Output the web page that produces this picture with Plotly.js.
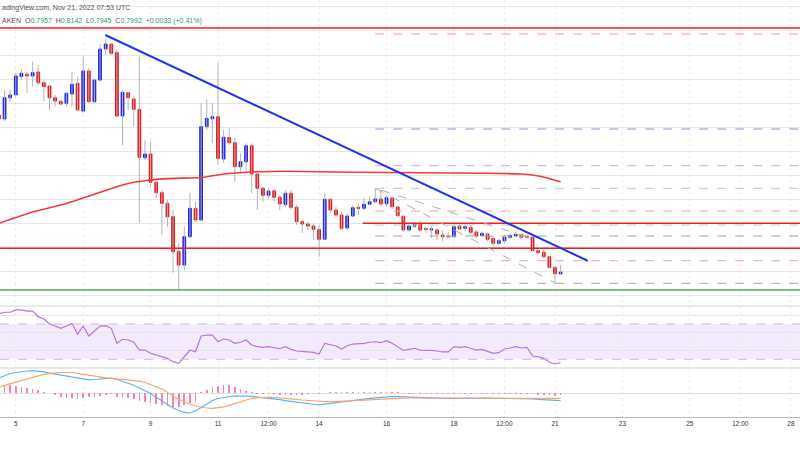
<!DOCTYPE html>
<html><head><meta charset="utf-8">
<script src="https://cdn.plot.ly/plotly-3.0.1.min.js"></script>
<style>html,body{margin:0;padding:0;background:#fff;}#chart{width:800px;height:450px;}</style>
</head><body><div id="chart"></div>
<script>
// ---- data (4h candles, MATICUSD Kraken) ----
const firstCandle = '2022-11-04T12:00:00Z';
const opens = [1.1254,1.1171,1.1613,1.1675,1.2055,1.2099,1.2064,1.2147,1.1924,1.1856,1.1613,1.1538,1.1497,1.1690,1.1910,1.1337,1.2167,1.1530,1.1980,1.2624,1.2728,1.2550,1.1233,1.1715,1.1586,1.1372,1.0367,1.0444,0.9856,0.9640,0.9420,0.9142,0.8420,0.8139,0.8727,0.9310,0.9074,1.1011,1.1175,1.1218,1.0340,1.0785,1.0679,1.0180,1.0284,1.0616,1.0029,0.9732,0.9586,0.9680,0.9545,0.9395,0.9628,0.9337,0.9038,0.8990,0.8949,0.8875,0.8673,0.9503,0.9281,0.9177,0.8910,0.9157,0.9337,0.9316,0.9400,0.9454,0.9510,0.9412,0.9530,0.9345,0.9150,0.8866,0.8945,0.9000,0.8895,0.8866,0.8866,0.8762,0.8741,0.8727,0.8945,0.8901,0.8922,0.8825,0.8750,0.8783,0.8690,0.8590,0.8644,0.8714,0.8740,0.8770,0.8730,0.8718,0.8436,0.8405,0.8311,0.8091,0.7957];
const highs = [1.1358,1.1773,1.1773,1.2126,1.2203,1.2153,1.2360,1.2292,1.1980,1.1877,1.1669,1.1565,1.1738,1.2153,1.2049,1.2464,1.2223,1.2016,1.2728,1.2840,1.2749,1.2618,1.1773,1.1738,1.1634,1.2464,1.0735,1.0699,0.9904,0.9696,0.9489,0.9281,0.8596,0.8934,0.9634,0.9454,1.1503,1.1586,1.1503,1.2333,1.0942,1.0978,1.0776,1.0459,1.0666,1.0666,1.0076,0.9765,0.9732,0.9711,0.9593,0.9696,0.9696,0.9385,0.9074,0.9038,0.8990,0.8970,0.9640,0.9524,0.9350,0.9246,0.9213,0.9385,0.9420,0.9524,0.9557,0.9732,0.9696,0.9593,0.9557,0.9364,0.9177,0.9005,0.9032,0.9053,0.8949,0.8949,0.8907,0.8866,0.8824,0.8970,0.8990,0.8990,0.8970,0.8866,0.8831,0.8810,0.8741,0.8679,0.8762,0.8783,0.8831,0.8797,0.8768,0.8762,0.8465,0.8451,0.8326,0.8098,0.8142];
const lows = [1.1108,1.1129,1.1530,1.1634,1.1980,1.1711,1.1841,1.1877,1.1530,1.1358,1.1426,1.1461,1.1426,1.1426,1.1343,1.1301,1.1497,1.1497,1.1945,1.2500,1.2500,1.1206,1.0631,1.1358,1.1011,0.9017,1.0319,0.9765,0.9530,0.8762,0.8934,0.7979,0.7635,0.8035,0.8700,0.9038,0.9053,1.0942,1.0672,1.0216,1.0257,1.0631,0.9869,1.0043,1.0112,0.9634,0.9281,0.9454,0.9524,0.9454,0.9281,0.9343,0.9281,0.8970,0.8804,0.8866,0.8658,0.8311,0.8658,0.9213,0.9142,0.8866,0.8866,0.9142,0.9177,0.9281,0.9385,0.9420,0.9364,0.9350,0.9296,0.9142,0.8831,0.8831,0.8907,0.8831,0.8804,0.8700,0.8658,0.8623,0.8700,0.8714,0.8866,0.8831,0.8762,0.8694,0.8720,0.8623,0.8519,0.8554,0.8590,0.8679,0.8714,0.8679,0.8700,0.8415,0.8368,0.8278,0.8071,0.7772,0.7945];
const closes = [1.1171,1.1613,1.1669,1.2064,1.2120,1.2064,1.2132,1.1924,1.1841,1.1613,1.1544,1.1482,1.1704,1.1891,1.1358,1.2167,1.1530,1.1980,1.2624,1.2728,1.2535,1.1233,1.1725,1.1613,1.1372,1.0375,1.0444,0.9856,0.9640,0.9420,0.9142,0.8415,0.8139,0.8727,0.9316,0.9074,1.1011,1.1185,1.1218,1.0355,1.0791,1.0679,1.0180,1.0284,1.0616,1.0029,0.9732,0.9586,0.9676,0.9545,0.9406,0.9628,0.9337,0.9038,0.8990,0.8949,0.8880,0.8673,0.9503,0.9281,0.9177,0.8901,0.9157,0.9329,0.9316,0.9400,0.9454,0.9510,0.9406,0.9537,0.9350,0.9163,0.8866,0.8949,0.8990,0.8866,0.8878,0.8887,0.8783,0.8727,0.8727,0.8934,0.8887,0.8934,0.8818,0.8741,0.8797,0.8673,0.8590,0.8644,0.8714,0.8748,0.8777,0.8714,0.8718,0.8436,0.8395,0.8311,0.8091,0.7957,0.7992];
// 100-period moving average, sampled at candle indices
const maIdx = [0,6,12,18,21,24,26,28,31,36,40,43,46,51,63,75,87,93,95,97,98,99,100];
const maVal = [0.9007,0.9240,0.9418,0.9649,0.9765,0.9856,0.9890,0.9917,0.9939,0.9956,1.0029,1.0056,1.0076,1.0087,1.0066,1.0054,1.0045,1.0029,1.0008,0.9966,0.9933,0.9900,0.9869];
const rsi = [81.3,83.3,83.3,85.9,85.9,84.7,84.7,78.3,75.7,70.0,67.7,65.1,67.7,70.8,58.3,67.7,56.4,62.1,67.7,68.1,65.1,48.1,52.7,51.9,49.3,40.5,40.5,36.8,34.9,32.9,31.1,27.3,25.5,32.9,40.5,38.6,56.4,57.5,57.5,49.9,53.0,51.9,48.1,49.3,51.9,46.2,44.3,43.6,44.3,43.1,42.0,44.3,41.3,39.4,38.6,38.3,37.9,36.0,48.1,46.2,45.1,41.7,45.4,47.3,47.3,48.1,49.3,49.9,48.8,51.1,48.1,44.3,40.0,41.3,42.5,40.5,40.5,40.0,39.4,38.3,38.3,44.3,43.6,44.3,42.5,40.5,41.3,39.4,36.8,37.5,41.7,42.8,44.3,42.8,43.6,33.7,32.9,31.1,26.6,24.7,26.1];
const macdLine = [0.0153,0.0178,0.0198,0.0208,0.0218,0.0223,0.0226,0.0223,0.0215,0.0201,0.0191,0.0181,0.0173,0.0163,0.0151,0.0143,0.0135,0.0138,0.0143,0.0150,0.0151,0.0138,0.0121,0.0101,0.0080,0.0053,0.0025,-0.0002,-0.0040,-0.0075,-0.0112,-0.0147,-0.0172,-0.0190,-0.0197,-0.0177,-0.0142,-0.0107,-0.0072,-0.0052,-0.0040,-0.0032,-0.0029,-0.0027,-0.0027,-0.0031,-0.0037,-0.0043,-0.0048,-0.0055,-0.0063,-0.0074,-0.0082,-0.0090,-0.0099,-0.0107,-0.0113,-0.0117,-0.0109,-0.0101,-0.0094,-0.0087,-0.0079,-0.0068,-0.0062,-0.0057,-0.0051,-0.0045,-0.0040,-0.0036,-0.0034,-0.0034,-0.0037,-0.0040,-0.0043,-0.0045,-0.0047,-0.0049,-0.0050,-0.0051,-0.0050,-0.0049,-0.0050,-0.0051,-0.0052,-0.0051,-0.0050,-0.0049,-0.0050,-0.0051,-0.0050,-0.0049,-0.0050,-0.0051,-0.0050,-0.0055,-0.0060,-0.0065,-0.0069,-0.0072,-0.0074];
const signalLine = [0.0063,0.0080,0.0095,0.0108,0.0127,0.0145,0.0160,0.0175,0.0189,0.0200,0.0205,0.0208,0.0210,0.0208,0.0200,0.0190,0.0183,0.0173,0.0163,0.0155,0.0150,0.0145,0.0140,0.0135,0.0130,0.0121,0.0108,0.0088,0.0068,0.0043,0.0010,-0.0032,-0.0062,-0.0087,-0.0107,-0.0127,-0.0140,-0.0147,-0.0150,-0.0145,-0.0135,-0.0120,-0.0102,-0.0082,-0.0062,-0.0050,-0.0045,-0.0041,-0.0040,-0.0042,-0.0045,-0.0050,-0.0055,-0.0061,-0.0067,-0.0073,-0.0079,-0.0083,-0.0084,-0.0083,-0.0082,-0.0080,-0.0078,-0.0076,-0.0072,-0.0069,-0.0065,-0.0061,-0.0057,-0.0053,-0.0050,-0.0049,-0.0048,-0.0047,-0.0047,-0.0046,-0.0046,-0.0046,-0.0046,-0.0046,-0.0046,-0.0046,-0.0046,-0.0046,-0.0046,-0.0046,-0.0046,-0.0046,-0.0046,-0.0046,-0.0046,-0.0046,-0.0046,-0.0046,-0.0046,-0.0047,-0.0047,-0.0048,-0.0049,-0.0050,-0.0051];
const histogram = [0.0085,0.0083,0.0083,0.0073,0.0067,0.0050,0.0040,0.0033,0.0017,0.0003,-0.0017,-0.0040,-0.0043,-0.0050,-0.0057,-0.0043,-0.0040,-0.0033,-0.0027,-0.0013,-0.0007,-0.0033,-0.0040,-0.0050,-0.0060,-0.0077,-0.0090,-0.0100,-0.0107,-0.0117,-0.0123,-0.0133,-0.0133,-0.0117,-0.0100,-0.0083,0.0010,0.0033,0.0060,0.0077,0.0083,0.0083,0.0060,0.0043,0.0027,0.0010,-0.0003,-0.0008,-0.0010,-0.0010,-0.0012,-0.0012,-0.0012,-0.0013,-0.0012,-0.0011,-0.0010,-0.0008,0.0005,0.0010,0.0013,0.0015,0.0016,0.0017,0.0017,0.0017,0.0017,0.0016,0.0017,0.0017,0.0016,0.0012,-0.0005,-0.0005,-0.0004,-0.0005,-0.0006,-0.0005,-0.0005,-0.0004,-0.0005,-0.0005,-0.0006,-0.0005,-0.0005,-0.0004,-0.0005,-0.0005,-0.0006,-0.0005,-0.0005,-0.0004,-0.0005,-0.0005,-0.0005,-0.0008,-0.0012,-0.0016,-0.0020,-0.0022,-0.0020];
// horizontal levels
const solidLevels = [1.3060, 0.8486, 0.7620];
const solidColors = ['#f01e1e', '#f01e1e', '#4caf50'];
const resistStart = '2022-11-15 07:00';
const resistLevel = 0.9005;
const fibStart = '2022-11-15 16:00';
const fibLevels = [1.2936, 1.0963, 1.0201, 0.9732, 0.9260, 0.8970, 0.8741, 0.8228, 0.7759];
const fibColors = ['#f59a9a', '#8f8fe0', '#c9a3ec', '#9fd0ec', '#f3a3a3', '#a8d9ab', '#b89a9a', '#f3a3a3', '#a9a9a9'];
const trendX = ['2022-11-07 15:44', '2022-11-21 23:17'];
const trendY = [1.2915, 0.8228];
const diagA = {x: ['2022-11-15 16:00', '2022-11-21 00:00'], y: [0.9732, 0.7765]};
const diagB = {x: ['2022-11-15 20:00', '2022-11-20 04:00'], y: [0.9697, 0.8725]};
const xRange = ['2022-11-04 12:45', '2022-11-28 06:29'];
const tickVals = ['2022-11-05','2022-11-07','2022-11-09','2022-11-11','2022-11-12 12:00','2022-11-14','2022-11-16','2022-11-18','2022-11-19 12:00','2022-11-21','2022-11-23','2022-11-25','2022-11-26 12:00','2022-11-28'];
const tickText = ['5','7','9','11','12:00','14','16','18','12:00','21','23','25','12:00','28'];

// ---- build ----
function fmt(d){const p=n=>String(n).padStart(2,'0');return d.getUTCFullYear()+'-'+p(d.getUTCMonth()+1)+'-'+p(d.getUTCDate())+' '+p(d.getUTCHours())+':'+p(d.getUTCMinutes());}
const t0 = new Date(firstCandle).getTime();
const times = opens.map((_,i)=>fmt(new Date(t0 + i*4*3600*1000)));
const wx=[], wy=[];
times.forEach((t,i)=>{wx.push(t,t,null);wy.push(lows[i],highs[i],null);});
const bodyHigh = opens.map((o,i)=>Math.max(o,closes[i]));
const bodyLow = opens.map((o,i)=>Math.min(o,closes[i]));
const BLUE='#1b22e6', RED='#e8141c';

const traces = [
 {type:'scatter',mode:'lines',x:wx,y:wy,line:{color:'#b4b4b4',width:1},xaxis:'x',yaxis:'y',hoverinfo:'skip'},
 {type:'candlestick',x:times,open:opens,high:bodyHigh,low:bodyLow,close:closes,xaxis:'x',yaxis:'y',
  increasing:{line:{color:BLUE,width:1},fillcolor:BLUE},decreasing:{line:{color:RED,width:1},fillcolor:RED},whiskerwidth:0},
 {type:'scatter',mode:'lines',x:maIdx.map(i=>times[i]),y:maVal,line:{color:'#f23a3a',width:1.6,shape:'spline',smoothing:0.6},xaxis:'x',yaxis:'y'},
 {type:'scatter',mode:'lines',x:times,y:rsi,line:{color:'#bc72d8',width:1.2},xaxis:'x',yaxis:'y2'},
 {type:'bar',x:times,y:histogram,width:1.2*3600*1000,marker:{color:'#f882b3',line:{width:0}},xaxis:'x',yaxis:'y3'},
 {type:'scatter',mode:'lines',x:times,y:macdLine,line:{color:'#5fb4f4',width:1.2},xaxis:'x',yaxis:'y3'},
 {type:'scatter',mode:'lines',x:times,y:signalLine,line:{color:'#fba46c',width:1.2},xaxis:'x',yaxis:'y3'}
];

const H=417;
const sepMain=(H-306)/H, sepRsi=(H-368)/H;
const shapes=[];
shapes.push({type:'rect',xref:'paper',x0:0,x1:1,yref:'y2',y0:30,y1:70,fillcolor:'rgba(160,90,235,0.12)',line:{width:0},layer:'below'});
[30,70].forEach(v=>shapes.push({type:'line',xref:'paper',x0:0,x1:1,yref:'y2',y0:v,y1:v,line:{color:'#d4b3e8',width:1,dash:'dash'}}));
[sepMain,sepRsi].forEach(v=>shapes.push({type:'line',xref:'paper',x0:0,x1:1,yref:'paper',y0:v,y1:v,line:{color:'#e2e2e2',width:1.5}}));
fibLevels.forEach((v,i)=>shapes.push({type:'line',xref:'x',x0:fibStart,x1:'2022-11-30',yref:'y',y0:v,y1:v,line:{color:fibColors[i],width:1,dash:'dash'}}));
solidLevels.forEach((v,i)=>shapes.push({type:'line',xref:'paper',x0:0,x1:1,yref:'y',y0:v,y1:v,line:{color:solidColors[i],width:1.6}}));
shapes.push({type:'line',xref:'x',x0:resistStart,x1:'2022-11-30',yref:'y',y0:resistLevel,y1:resistLevel,line:{color:'#f01e1e',width:1.6}});
[diagA,diagB].forEach(d=>shapes.push({type:'line',xref:'x',x0:d.x[0],x1:d.x[1],yref:'y',y0:d.y[0],y1:d.y[1],line:{color:'#b0b0b0',width:1,dash:'dash'}}));
shapes.push({type:'line',xref:'x',x0:trendX[0],x1:trendX[1],yref:'y',y0:trendY[0],y1:trendY[1],line:{color:'#2233e8',width:2}});

const font='Liberation Sans, Arial, sans-serif';
const g='#22a06b';
const annotations=[
 {xref:'paper',yref:'paper',x:0,y:1-8/H,xanchor:'left',yanchor:'middle',showarrow:false,text:'adingView.com, Nov 21, 2022 07:53 UTC',font:{family:font,size:7,color:'#505050'}},
 {xref:'paper',yref:'paper',x:0,y:1-21/H,xanchor:'left',yanchor:'middle',showarrow:false,
  text:'AKEN  O<span style="color:'+g+'">0.7957</span>  H<span style="color:'+g+'">0.8142</span>  L<span style="color:'+g+'">0.7945</span>  C<span style="color:'+g+'">0.7992</span>  <span style="color:'+g+'">+0.0033 (+0.41%)</span>',
  font:{family:font,size:7,color:'#505050'}}
];

const layout={
 width:800,height:450,margin:{l:0,r:0,t:0,b:33},paper_bgcolor:'#fff',plot_bgcolor:'#fff',showlegend:false,
 xaxis:{type:'date',range:xRange,anchor:'y3',tickvals:tickVals,ticktext:tickText,tickfont:{family:font,size:6.5,color:'#333'},
   ticks:'',showgrid:true,gridcolor:'#ececf2',griddash:'dot',gridwidth:1,showline:true,linecolor:'#b8b8b8',linewidth:1.2,
   rangeslider:{visible:false},fixedrange:true,zeroline:false},
 yaxis:{domain:[sepMain,1],range:[0.7288,1.3642],tick0:0.75,dtick:0.05,showticklabels:false,gridcolor:'#e6e6e6',zeroline:false,fixedrange:true},
 yaxis2:{domain:[sepRsi,sepMain],range:[20.14,90.40],tickvals:[40,60,80],showticklabels:false,gridcolor:'#e6e6e6',zeroline:false,fixedrange:true},
 yaxis3:{domain:[0,sepRsi],range:[-0.0237,0.0253],tickvals:[0],showticklabels:false,gridcolor:'#e3e3e3',zeroline:false,fixedrange:true},
 bargap:0,shapes:shapes,annotations:annotations,hovermode:false
};
Plotly.newPlot('chart',traces,layout,{staticPlot:true,displayModeBar:false});
</script></body></html>
